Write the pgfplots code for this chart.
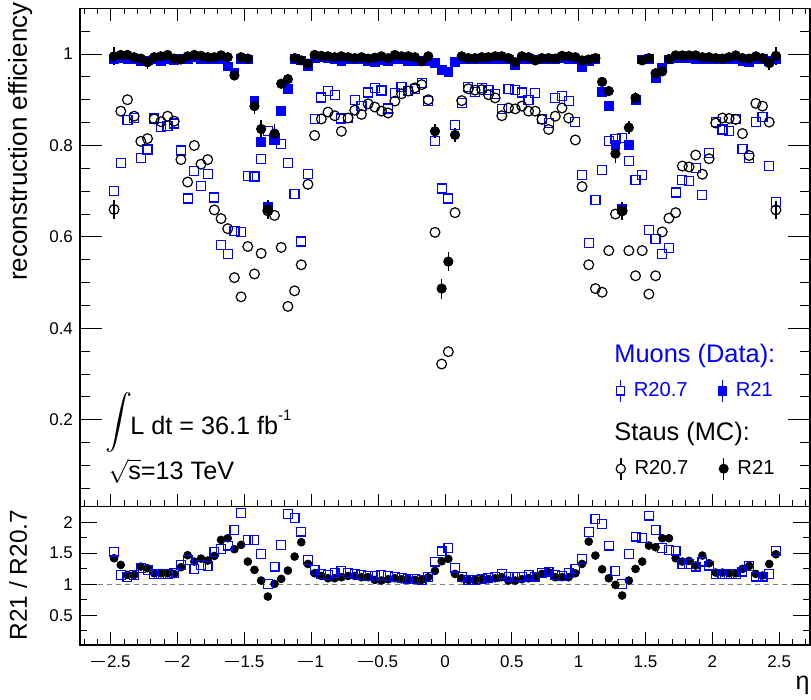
\documentclass[border=0pt]{standalone}
\usepackage{fontspec}
\setmainfont{Liberation Sans}
\usepackage{pgfplots}
\usepackage{pgfplotstable}
\pgfplotsset{compat=1.18}

\definecolor{rootblue}{RGB}{0,0,255}
% long minus sign used in the eta tick labels
\newcommand{\mn}{\rule[2.7pt]{7.2pt}{0.6pt}\kern0.9pt}

% eta bins of width 0.05: muon (data) and stau (MC) efficiencies, R20.7 and R21,
% plus the two ratio series of the lower panel
\pgfplotstableread{
eta mu207 mu21 st207 st207e st21 st21e rsq rdot
-2.475 0.700 0.990 0.660 0.020 0.995 0.020 1.526 1.419
-2.425 0.761 0.992 0.875 0 0.998 0 1.150 1.311
-2.375 0.855 0.990 0.900 0 0.998 0 1.113 1.150
-2.325 0.860 0.990 0.864 0 0.993 0 1.150 1.150
-2.275 0.773 0.985 0.809 0 0.990 0 1.258 1.284
-2.225 0.791 0.986 0.815 0 0.982 0.014 1.231 1.258
-2.175 0.859 0.988 0.858 0 0.993 0 1.161 1.177
-2.125 0.841 0.985 0.852 0 0.995 0 1.161 1.177
-2.075 0.842 0.990 0.864 0 0.998 0 1.161 1.177
-2.025 0.848 0.987 0.853 0 0.990 0 1.177 1.166
-1.975 0.789 0.990 0.769 0 0.988 0 1.311 1.274
-1.925 0.684 0.988 0.720 0 0.995 0 1.392 1.467
-1.875 0.744 0.993 0.800 0 0.998 0 1.247 1.365
-1.825 0.711 0.990 0.759 0 0.996 0 1.311 1.413
-1.775 0.737 0.988 0.769 0 0.993 0 1.295 1.381
-1.725 0.686 0.990 0.659 0 0.993 0 1.516 1.456
-1.675 0.582 0.990 0.640 0 0.997 0 1.569 1.715
-1.625 0.562 0.973 0.618 0 0.993 0 1.623 1.741
-1.575 0.613 0.960 0.511 0 0.953 0.010 1.876 1.564
-1.525 0.610 0.990 0.469 0 0.993 0 2.145 1.634
-1.475 0.733 0.988 0.579 0 0.990 0 1.715 1.365
-1.425 0.732 0.898 0.519 0 0.886 0.018 1.715 1.231
-1.375 0.771 0.808 0.564 0 0.836 0.020 1.489 1.059
-1.325 0.831 0.665 0.657 0 0.660 0.020 1.005 0.801
-1.275 0.813 0.817 0.647 0 0.826 0.020 1.284 1.005
-1.225 0.804 0.875 0.577 0 0.935 0.010 1.634 1.086
-1.175 0.761 0.924 0.448 0 0.945 0.008 2.130 1.220
-1.125 0.693 0.990 0.482 0 0.991 0 2.064 1.446
-1.075 0.590 0.986 0.539 0 0.986 0 1.849 1.677
-1.025 0.737 0.973 0.715 0 0.979 0 1.392 1.327
-0.975 0.857 0.992 0.822 0 0.998 0 1.231 1.177
-0.925 0.905 0.993 0.858 0 0.996 0 1.161 1.134
-0.875 0.919 0.992 0.873 0 0.995 0 1.150 1.096
-0.825 0.911 0.990 0.865 0 0.993 0 1.177 1.096
-0.775 0.859 0.985 0.831 0 0.995 0 1.215 1.113
-0.725 0.860 0.990 0.860 0 0.993 0 1.177 1.134
-0.675 0.899 0.990 0.877 0 0.991 0 1.161 1.134
-0.625 0.886 0.990 0.868 0 0.993 0 1.150 1.113
-0.575 0.916 0.985 0.891 0 0.990 0 1.134 1.113
-0.525 0.926 0.983 0.884 0 0.992 0 1.134 1.069
-0.475 0.920 0.986 0.875 0 0.995 0 1.150 1.059
-0.425 0.881 0.985 0.871 0 0.991 0 1.134 1.080
-0.375 0.915 0.990 0.897 0 0.998 0 1.113 1.096
-0.325 0.927 0.988 0.913 0 0.995 0 1.096 1.080
-0.275 0.919 0.985 0.919 0 0.995 0 1.086 1.080
-0.225 0.924 0.985 0.926 0 0.993 0 1.080 1.069
-0.175 0.937 0.985 0.933 0 0.984 0 1.069 1.069
-0.125 0.898 0.985 0.900 0 0.995 0 1.113 1.113
-0.075 0.809 0.980 0.610 0 0.831 0.015 1.365 1.215
-0.025 0.706 0.966 0.322 0 0.487 0.022 1.530 1.370
0.025 0.684 0.961 0.349 0 0.546 0.020 1.580 1.408
0.075 0.844 0.982 0.653 0 0.823 0.015 1.268 1.166
0.125 0.893 0.990 0.898 0 0.995 0 1.113 1.096
0.175 0.927 0.988 0.924 0 0.991 0 1.069 1.069
0.225 0.917 0.988 0.921 0 0.991 0 1.069 1.069
0.275 0.926 0.990 0.922 0 0.993 0 1.080 1.080
0.325 0.922 0.988 0.911 0 0.993 0 1.096 1.080
0.375 0.913 0.990 0.904 0 0.995 0 1.113 1.096
0.425 0.880 0.990 0.865 0 0.995 0 1.166 1.113
0.475 0.924 0.988 0.882 0 0.991 0 1.123 1.059
0.525 0.922 0.975 0.880 0 0.982 0 1.113 1.059
0.575 0.916 0.990 0.886 0 0.995 0 1.123 1.080
0.625 0.900 0.990 0.875 0 0.993 0 1.150 1.096
0.675 0.915 0.988 0.875 0 0.986 0 1.123 1.113
0.725 0.858 0.988 0.857 0 0.991 0 1.177 1.166
0.775 0.849 0.990 0.835 0 0.991 0 1.204 1.193
0.825 0.904 0.990 0.864 0 0.990 0 1.150 1.113
0.875 0.908 0.992 0.882 0 0.996 0 1.134 1.113
0.925 0.898 0.990 0.860 0 0.995 0 1.177 1.113
0.975 0.852 0.988 0.812 0 0.993 0 1.241 1.177
1.025 0.735 0.971 0.710 0 0.986 0 1.408 1.327
1.075 0.586 0.985 0.539 0 0.988 0 1.838 1.688
1.125 0.680 0.990 0.487 0 0.991 0 2.053 1.462
1.175 0.746 0.917 0.479 0 0.939 0.010 1.973 1.241
1.225 0.809 0.887 0.570 0 0.919 0.010 1.623 1.096
1.275 0.815 0.802 0.650 0 0.782 0.020 1.215 0.989
1.325 0.817 0.662 0.657 0 0.657 0.020 1.005 0.817
1.375 0.766 0.802 0.570 0 0.839 0.015 1.489 1.059
1.425 0.724 0.900 0.515 0 0.904 0.012 1.768 1.247
1.475 0.735 0.988 0.570 0 0.986 0 1.741 1.365
1.525 0.615 0.990 0.475 0 0.991 0 2.107 1.623
1.575 0.595 0.948 0.515 0 0.958 0.008 1.876 1.596
1.625 0.562 0.969 0.611 0 0.962 0.008 1.580 1.741
1.675 0.575 0.988 0.641 0 0.989 0 1.553 1.741
1.725 0.697 0.992 0.653 0 0.997 0 1.543 1.419
1.775 0.724 0.992 0.755 0 0.997 0 1.327 1.365
1.825 0.722 0.992 0.753 0 0.997 0 1.327 1.376
1.875 0.750 0.990 0.779 0 0.997 0 1.284 1.301
1.925 0.691 0.990 0.737 0 0.993 0 1.365 1.462
1.975 0.783 0.988 0.771 0 0.993 0 1.301 1.338
2.025 0.851 0.990 0.849 0 0.991 0 1.161 1.188
2.075 0.835 0.988 0.860 0 0.990 0 1.161 1.188
2.125 0.831 0.990 0.859 0 0.993 0 1.161 1.177
2.175 0.858 0.988 0.857 0 0.997 0 1.161 1.177
2.225 0.793 0.985 0.826 0 0.991 0 1.204 1.247
2.275 0.773 0.983 0.778 0 0.990 0 1.295 1.295
2.325 0.852 0.990 0.892 0 0.995 0 1.123 1.166
2.375 0.863 0.990 0.886 0 0.991 0 1.123 1.140
2.425 0.755 0.985 0.851 0 0.980 0.015 1.161 1.327
2.475 0.677 0.990 0.659 0.020 0.996 0.020 1.537 1.483
}\effdata

\pgfplotsset{
  rootframe/.style={
    scale only axis, width=365pt,
    xmin=-2.73, xmax=2.73,
    axis line style={line width=0.6pt},
    tick style={line width=0.5pt, black},
    tick align=inside,
    tick label style={font=\fontsize{8.5}{10}\selectfont},
    legend columns=2,
    legend cell align=left,
    legend style={draw=none, fill=none, inner sep=0pt, outer sep=0pt,
      font=\fontsize{10.1}{12}\selectfont, anchor=west,
      /tikz/every even column/.append style={column sep=13.3pt}},
  },
  % legend symbol: marker with a vertical error bar through it
  legerr/.style={legend image code/.code={
      \draw[#1, line width=0.8pt] (0pt,-5.4pt) -- (0pt,5.4pt);
      \draw[##1] plot coordinates {(0pt,0pt)};}},
  errs/.style={error bars/.cd, y dir=both, y explicit, error mark=none,
    error bar style={line width=0.75pt}},
}

\begin{document}
\begin{tikzpicture}
\path[use as bounding box] (-40pt,-96.65pt) rectangle (365.5pt,253.35pt);

% ---------- upper panel: efficiencies ----------
\begin{axis}[rootframe, name=main, at={(0,0)}, anchor=south west,
  height=249.2pt, ymin=0.01, ymax=1.1,
  xtick={-2.5,-2,...,2.5}, xticklabels={},
  minor xtick={-2.7,-2.6,...,2.75},
  xtick pos=both, ytick=\empty,
  major tick length=6.25pt, minor tick length=3.1pt,
  legend style={at={(0.7345,0.2327)}},
]
\addplot[only marks, mark=square, mark size=2.25pt, color=rootblue, line width=0.6pt, forget plot]
  table[x=eta, y=mu207] {\effdata};
\addplot[only marks, mark=square*, mark size=2.2pt, color=rootblue, line width=0.4pt, forget plot]
  table[x=eta, y=mu21] {\effdata};
\addplot[only marks, mark=o, mark size=2.45pt, color=black, line width=0.6pt, forget plot, errs]
  table[x=eta, y=st207, y error=st207e] {\effdata};
\addplot[only marks, mark=*, mark size=2.35pt, color=black, line width=0.4pt, forget plot, errs]
  table[x=eta, y=st21, y error=st21e] {\effdata};

\addlegendimage{only marks, mark=square*, mark size=2.1pt, line width=0.6pt,
  mark options={fill=white, draw=rootblue}, legerr=rootblue}
\addlegendentry{\hspace{2.6pt}\textcolor{rootblue}{R20.7}}
\addlegendimage{only marks, mark=square*, mark size=2.1pt, color=rootblue, legerr=rootblue}
\addlegendentry{\hspace{2.6pt}\textcolor{rootblue}{R21}}
\end{axis}

% y ticks of the upper panel (longer tick marks than on the eta axis)
\begin{axis}[rootframe, at={(0,0)}, anchor=south west,
  height=249.2pt, ymin=0.01, ymax=1.1,
  xtick=\empty, ytick pos=both,
  ytick={0.2,0.4,0.6,0.8,1}, yticklabels={0.2,0.4,0.6,0.8,1},
  minor ytick={0.05,0.1,...,1.08},
  major tick length=10.8pt, minor tick length=5pt,
  legend style={at={(0.7345,0.0762)}},
]
\addlegendimage{only marks, mark=*, mark size=2.3pt, line width=0.6pt,
  mark options={fill=white, draw=black}, legerr=black}
\addlegendentry{\hspace{2.6pt}R20.7}
\addlegendimage{only marks, mark=*, mark size=2.3pt, color=black, legerr=black}
\addlegendentry{\hspace{2.6pt}R21}
\end{axis}

% ---------- lower panel: R21 / R20.7 ----------
\begin{axis}[rootframe, at={(0,0)}, anchor=north west,
  height=69.15pt, ymin=0.02, ymax=2.25,
  xtick={-2.5,-2,...,2.5},
  xticklabels={\mn2.5,\mn2,\mn1.5,\mn1,\mn0.5,0,0.5,1,1.5,2,2.5},
  xticklabel style={yshift=-1.9pt},
  minor xtick={-2.7,-2.6,...,2.75},
  xtick pos=bottom, ytick=\empty,
  major tick length=6.25pt, minor tick length=3.1pt,
]
\addplot[gray, line width=0.5pt, dash pattern=on 2.5pt off 2pt, forget plot]
  coordinates {(-2.73,1) (2.73,1)};
\addplot[only marks, mark=*, mark size=1.95pt, color=black, forget plot]
  table[x=eta, y=rdot] {\effdata};
\addplot[only marks, mark=square, mark size=2.2pt, color=rootblue, line width=0.6pt, forget plot]
  table[x=eta, y=rsq] {\effdata};
\end{axis}

\begin{axis}[rootframe, at={(0,0)}, anchor=north west,
  height=69.15pt, ymin=0.02, ymax=2.25,
  xtick=\empty, ytick pos=both,
  ytick={0.5,1,1.5,2}, yticklabels={0.5,1,1.5,2},
  minor ytick={0.25,0.75,1.25,1.75},
  major tick length=8.3pt, minor tick length=3.6pt,
]
\end{axis}

% ---------- titles and annotations ----------
\node[rotate=90, anchor=base east, inner sep=0pt, font=\fontsize{13}{15}\selectfont]
  at (-26.5pt,252.4pt) {reconstruction efficiency};
\node[rotate=90, anchor=base, inner sep=0pt, font=\fontsize{12.2}{14}\selectfont]
  at (-26.5pt,-34.2pt) {R21 / R20.7};
\node[anchor=base east, inner sep=0pt, font=\fontsize{12.5}{14}\selectfont]
  at (365pt,-91.65pt) {η};

\node[anchor=base west, inner sep=0pt, text=rootblue, font=\fontsize{12.7}{15}\selectfont]
  at (267pt,71.85pt) {Muons (Data):};
\node[anchor=base west, inner sep=0pt, font=\fontsize{12.7}{15}\selectfont]
  at (267pt,32.85pt) {Staus (MC):};

\node[anchor=south west, inner sep=0pt] at (12.5pt,26.85pt)
  {\resizebox*{!}{30pt}{$\displaystyle\int$}};
\node[anchor=base west, inner sep=0pt, font=\fontsize{12.6}{15}\selectfont]
  at (25pt,35.85pt) {L dt = 36.1 fb\raisebox{7pt}{\fontsize{7.5}{8}\selectfont -1}};
\node[anchor=base west, inner sep=0pt, font=\fontsize{12.6}{15}\selectfont]
  at (14pt,13.7pt) {$\sqrt{\hbox{s}}$=13 TeV};
\end{tikzpicture}
\end{document}
